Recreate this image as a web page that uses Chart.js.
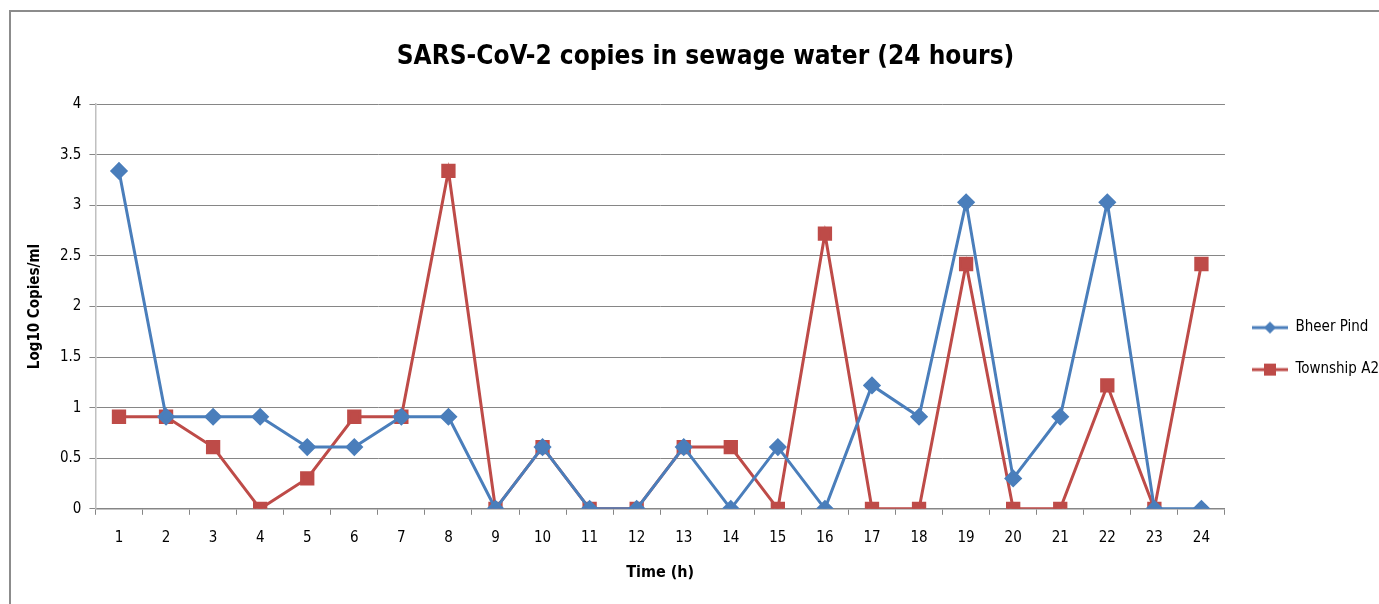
<!DOCTYPE html>
<html>
<head>
<meta charset="utf-8">
<script src="https://cdn.jsdelivr.net/npm/chart.js@4.4.0/dist/chart.umd.min.js"></script>
<style>
  html, body { margin: 0; padding: 0; background: #fff; }
  #wrap { position: relative; width: 1379px; height: 604px; overflow: hidden; }
  #frame { position: absolute; left: 9px; top: 10px; width: 1400px; height: 700px;
           border-left: 2px solid #8c8c8c; border-top: 2px solid #8c8c8c; }
  canvas { position: absolute; left: 0; top: 0; }
</style>
</head>
<body>
<div id="wrap">
  <div id="frame"></div>
  <canvas id="myChart" width="1379" height="604"></canvas>
</div>
<script>
// hours 1..24
var hours = ['1','2','3','4','5','6','7','8','9','10','11','12','13','14','15','16','17','18','19','20','21','22','23','24'];
var bheerPind = [3.34, 0.91, 0.91, 0.91, 0.61, 0.61, 0.91, 0.91, 0, 0.61, 0, 0, 0.61, 0, 0.61, 0, 1.22, 0.91, 3.03, 0.30, 0.91, 3.03, 0, 0];
var townshipA2 = [0.91, 0.91, 0.61, 0, 0.30, 0.91, 0.91, 3.34, 0, 0.61, 0, 0, 0.61, 0.61, 0, 2.72, 0, 0, 2.42, 0, 0, 1.22, 0, 2.42];
var yTicks = [0, 0.5, 1, 1.5, 2, 2.5, 3, 3.5, 4];

var fontName = "'DejaVu Sans Condensed', 'Liberation Sans', sans-serif";
var blue = '#4A7EBB';
var red = '#BE4B48';

// legend swatch: line with marker in the middle
function swatch(color, shape) {
  var c = document.createElement('canvas');
  c.width = 36; c.height = 16;
  var g = c.getContext('2d');
  g.strokeStyle = color; g.lineWidth = 3;
  g.beginPath(); g.moveTo(0, 8); g.lineTo(36, 8); g.stroke();
  g.fillStyle = color;
  if (shape == 'diamond') {
    g.beginPath(); g.moveTo(18, 2); g.lineTo(24, 8); g.lineTo(18, 14); g.lineTo(12, 8); g.closePath(); g.fill();
  } else {
    g.fillRect(12, 2, 12, 12);
  }
  return c;
}

graficoLinha()

function graficoLinha(){
const ctx = document.getElementById('myChart').getContext('2d');
const myChart = new Chart(ctx, {
    type: 'line',
    data: {
        labels: hours,
        datasets: [{
            label: 'Bheer Pind',
            data: bheerPind,
            borderColor: blue,
            backgroundColor: blue,
            borderWidth: 3,
            pointStyle: 'rectRot',
            pointRadius: 7,
            pointHoverRadius: 7,
            tension: 0
        }, {
            label: 'Township A2',
            data: townshipA2,
            borderColor: red,
            backgroundColor: red,
            borderWidth: 3,
            pointStyle: 'rect',
            pointRadius: 8,
            pointHoverRadius: 8,
            tension: 0
        }]
    },
    options: {
        responsive: false,
        animation: false,
        layout: { padding: { left: 22, right: -10, top: 40, bottom: 18 } },
        plugins: {
            title: {
                display: true,
                text: 'SARS-CoV-2 copies in sewage water (24 hours)',
                color: '#000',
                font: { family: fontName, size: 26, weight: 'bold' },
                padding: { top: 2, bottom: 31 }
            },
            legend: {
                position: 'right',
                title: { display: true, text: ' ', font: { size: 1 }, padding: { top: 70, bottom: 0 } },
                labels: {
                    usePointStyle: true,
                    pointStyleWidth: 36,
                    color: '#000',
                    font: { family: fontName, size: 15 },
                    padding: 27,
                    generateLabels: function(chart) {
                        return [
                            { text: 'Bheer Pind', pointStyle: swatch(blue, 'diamond'), datasetIndex: 0, fontColor: '#000', lineWidth: 0, strokeStyle: blue, fillStyle: blue },
                            { text: 'Township A2', pointStyle: swatch(red, 'square'), datasetIndex: 1, fontColor: '#000', lineWidth: 0, strokeStyle: red, fillStyle: red }
                        ];
                    }
                }
            },
            tooltip: { enabled: false }
        },
        scales: {
            x: {
                offset: true,
                grid: { offset: true, drawOnChartArea: false, color: '#868686', tickLength: 6 },
                border: { color: '#868686', width: 1.5 },
                ticks: { color: '#000', font: { family: fontName, size: 15 }, padding: 14, maxRotation: 0, autoSkip: false },
                title: { display: true, text: 'Time (h)', color: '#000', font: { family: fontName, size: 16, weight: 'bold' }, padding: { top: 2 } }
            },
            y: {
                min: 0,
                max: 4,
                afterBuildTicks: function(axis) { axis.ticks = yTicks.map(function(v){ return { value: v }; }); },
                grid: { color: '#868686', tickLength: 6, lineWidth: 1 },
                border: { color: '#c0c0c0', width: 1.5 },
                ticks: { color: '#000', font: { family: fontName, size: 15 }, padding: 8, callback: function(v) { return String(v); } },
                title: { display: true, text: 'Log10 Copies/ml', color: '#000', font: { family: fontName, size: 15, weight: 'bold' }, padding: { bottom: 8 } }
            }
        }
    }
});
}
</script>
</body>
</html>
